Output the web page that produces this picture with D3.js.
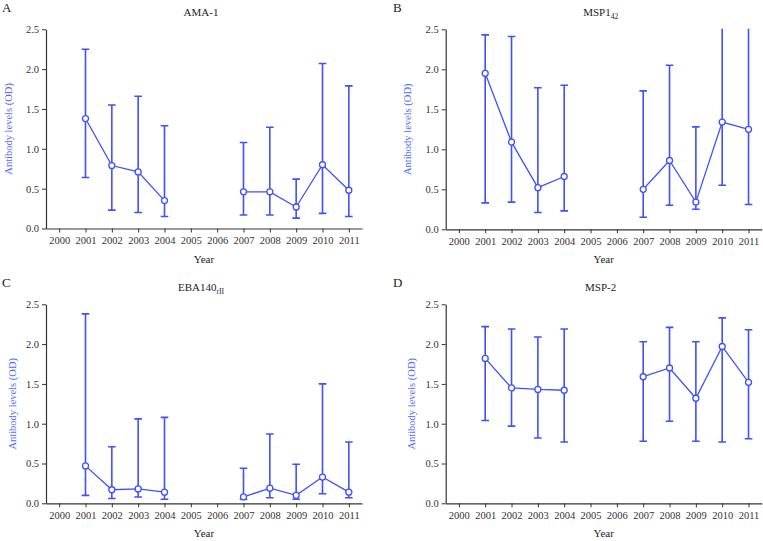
<!DOCTYPE html>
<html>
<head>
<meta charset="utf-8">
<script src="https://cdn.jsdelivr.net/npm/d3@7"></script>
<style>
  html, body { margin: 0; padding: 0; background: #fff; }
  svg { display: block; }
  svg text { font-family: "Liberation Serif", "Times New Roman", Times, serif !important; }
</style>
</head>
<body>
<svg id="chart" width="763" height="541" font-family="Liberation Serif"></svg>
<script>
// ---- Data ----
const years = [2000, 2001, 2002, 2003, 2004, 2005, 2006, 2007, 2008, 2009, 2010, 2011];
const yTicks = [0.0, 0.5, 1.0, 1.5, 2.0, 2.5];

// AMA-1
const amaMean  = [null, 1.38, 0.79, 0.71, 0.35, null, null, 0.46, 0.46, 0.27, 0.80, 0.48];
const amaLower = [null, 0.64, 0.23, 0.20, 0.15, null, null, 0.17, 0.17, 0.13, 0.19, 0.15];
const amaUpper = [null, 2.25, 1.55, 1.66, 1.29, null, null, 1.08, 1.27, 0.62, 2.07, 1.79];

// MSP1-42
const mspMean  = [null, 1.95, 1.09, 0.52, 0.66, null, null, 0.50, 0.86, 0.34, 1.34, 1.25];
const mspLower = [null, 0.33, 0.34, 0.21, 0.23, null, null, 0.15, 0.30, 0.25, 0.55, 0.31];
const mspUpper = [null, 2.43, 2.41, 1.77, 1.80, null, null, 1.73, 2.05, 1.28, 2.70, 2.70];

// EBA140 rII
const ebaMean  = [null, 0.47, 0.17, 0.18, 0.14, null, null, 0.08, 0.19, 0.10, 0.33, 0.14];
const ebaLower = [null, 0.10, 0.06, 0.08, 0.05, null, null, 0.05, 0.07, 0.05, 0.12, 0.07];
const ebaUpper = [null, 2.38, 0.71, 1.06, 1.08, null, null, 0.44, 0.87, 0.49, 1.50, 0.77];

// MSP-2
const msp2Mean  = [null, 1.82, 1.45, 1.43, 1.42, null, null, 1.59, 1.70, 1.32, 1.97, 1.52];
const msp2Lower = [null, 1.04, 0.97, 0.82, 0.77, null, null, 0.78, 1.03, 0.78, 0.77, 0.81];
const msp2Upper = [null, 2.22, 2.19, 2.09, 2.19, null, null, 2.03, 2.21, 2.03, 2.33, 2.18];

const panelLetters = ["A", "B", "C", "D"];
const titles = [["AMA-1", ""], ["MSP1", "42"], ["EBA140", "rII"], ["MSP-2", ""]];

// ---- Layout ----
const panels = [
  { letter: 0, title: 0, mean: amaMean,  lo: amaLower,  hi: amaUpper,  x0: 46,    x1: 362,   y0: 29.3,  y1: 228.5, lx: 2,   ly: 12,  ylab: 8 },
  { letter: 1, title: 1, mean: mspMean,  lo: mspLower,  hi: mspUpper,  x0: 445.7, x1: 761.7, y0: 29.3,  y1: 229.3, lx: 393, ly: 12,  ylab: 407 },
  { letter: 2, title: 2, mean: ebaMean,  lo: ebaLower,  hi: ebaUpper,  x0: 46,    x1: 362,   y0: 304.3, y1: 503.3, lx: 2,   ly: 287, ylab: 12 },
  { letter: 3, title: 3, mean: msp2Mean, lo: msp2Lower, hi: msp2Upper, x0: 445.7, x1: 761.7, y0: 304.3, y1: 503.3, lx: 393, ly: 287, ylab: 411 }
];

const blue = "#3f51fb";
const labelBlue = "#5566ff";
const axisColor = "#333";
const FONT = "Liberation Serif";

const svg = d3.select("#chart");

panels.forEach((p, i) => {
  const g = svg.append("g");
  const x = d3.scalePoint().domain(years).range([p.x0, p.x1]).padding(0.5);
  const y = d3.scaleLinear().domain([0, 2.5]).range([p.y1, p.y0]);

  // clip
  const clipId = "clip" + i;
  g.append("clipPath").attr("id", clipId)
    .append("rect").attr("x", p.x0).attr("y", p.y0 - 0.5)
    .attr("width", p.x1 - p.x0).attr("height", p.y1 - p.y0 + 6);

  // axes
  const yAxis = d3.axisLeft(y).tickValues(yTicks).tickFormat(d3.format(".1f")).tickSize(4).tickSizeOuter(0).tickPadding(3);
  const xAxis = d3.axisBottom(x).tickSize(4).tickSizeOuter(0).tickPadding(4);

  const ya = g.append("g").attr("transform", `translate(${p.x0},0)`).call(yAxis);
  const xa = g.append("g").attr("transform", `translate(0,${p.y1})`).call(xAxis);
  [ya, xa].forEach(a => {
    a.attr("font-family", FONT).attr("font-size", 10.5);
    a.select(".domain").attr("stroke", axisColor).attr("stroke-width", 1.2);
    a.selectAll(".tick line").attr("stroke", axisColor).attr("stroke-width", 1);
    a.selectAll(".tick text").attr("fill", "#333");
  });

  // panel letter
  g.append("text").attr("x", p.lx).attr("y", p.ly).attr("font-family", FONT)
    .attr("font-size", 13).attr("fill", "#222").text(panelLetters[p.letter]);

  // title
  const t = titles[p.title];
  const tt = g.append("text").attr("x", (p.x0 + p.x1) / 2 - 3).attr("y", p.y0 - 13)
    .attr("text-anchor", "middle").attr("font-family", FONT).attr("font-size", 11).attr("fill", "#222");
  tt.append("tspan").text(t[0]);
  if (t[1]) tt.append("tspan").attr("dy", 3).attr("font-size", 7.5).text(t[1]);

  // y label
  g.append("text")
    .attr("transform", `translate(${p.ylab + 4},${(p.y0 + p.y1) / 2}) rotate(-90)`)
    .attr("text-anchor", "middle").attr("font-family", FONT).attr("font-size", 10.5).attr("fill", labelBlue)
    .text("Antibody levels (OD)");

  // x label
  g.append("text").attr("x", (p.x0 + p.x1) / 2).attr("y", p.y1 + 34)
    .attr("text-anchor", "middle").attr("font-family", FONT).attr("font-size", 11).attr("fill", "#222").text("Year");

  const rows = years.map((yr, k) => ({ yr, m: p.mean[k], lo: p.lo[k], hi: p.hi[k] }));
  const valid = rows.filter(d => d.m != null);
  const plot = g.append("g").attr("clip-path", `url(#${clipId})`);

  // error bars
  plot.selectAll(".eb").data(valid).join("line")
    .attr("x1", d => x(d.yr)).attr("x2", d => x(d.yr))
    .attr("y1", d => y(d.lo)).attr("y2", d => y(d.hi))
    .attr("stroke", blue).attr("stroke-width", 1.6);
  const capW = 3.8;
  ["lo", "hi"].forEach(key => {
    plot.selectAll(".cap-" + key).data(valid).join("line")
      .attr("x1", d => x(d.yr) - capW).attr("x2", d => x(d.yr) + capW)
      .attr("y1", d => y(d[key])).attr("y2", d => y(d[key]))
      .attr("stroke", blue).attr("stroke-width", 1.6);
  });

  // connecting line
  const line = d3.line().defined(d => d.m != null).x(d => x(d.yr)).y(d => y(d.m));
  plot.append("path").datum(rows).attr("d", line)
    .attr("fill", "none").attr("stroke", blue).attr("stroke-width", 1.3);

  // markers
  plot.selectAll(".pt").data(valid).join("circle")
    .attr("cx", d => x(d.yr)).attr("cy", d => y(d.m)).attr("r", 3)
    .attr("fill", "#fff").attr("stroke", blue).attr("stroke-width", 1.3);
});
</script>
</body>
</html>
